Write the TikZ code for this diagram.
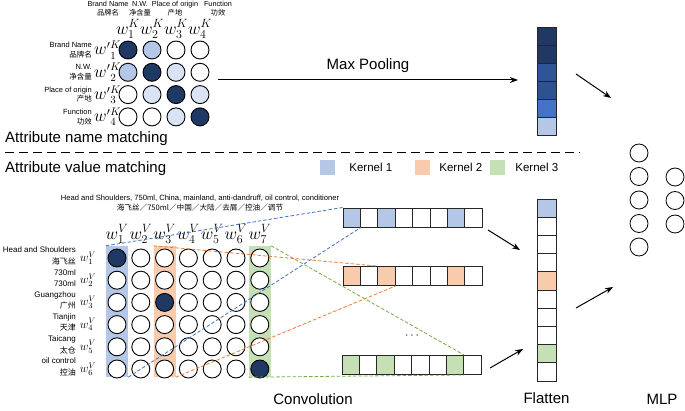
\documentclass[tikz,border=0pt]{standalone}
\usepackage{fontspec}
\setmainfont{Liberation Sans}
\newfontfamily\cjk{Noto Sans CJK SC}
\usepackage{tikz}
\usetikzlibrary{arrows.meta, positioning}

\definecolor{navy}{HTML}{1F3864}
\definecolor{paleblue}{HTML}{B4C7E7}
\definecolor{faintblue}{HTML}{DAE3F3}
\definecolor{poolc}{HTML}{2F5597}
\definecolor{poold}{HTML}{2C528F}
\definecolor{poole}{HTML}{4472C4}
\definecolor{k1}{HTML}{B4C7E7}
\definecolor{k2}{HTML}{F8CBAD}
\definecolor{k3}{HTML}{C5E0B4}
\definecolor{k1line}{HTML}{4472C4}
\definecolor{k2line}{HTML}{ED7D31}
\definecolor{k3line}{HTML}{70AD47}

\begin{document}
\begin{tikzpicture}[x=1pt, y=-1pt,
    neuron/.style={circle, draw=black, line width=0.9pt, fill=white, minimum size=18pt, inner sep=0pt},
    hcell/.style={rectangle, draw=black!85, line width=0.9pt, minimum width=17.4pt, minimum height=19pt, inner sep=0pt},
    vcell/.style={rectangle, draw=black!85, line width=0.9pt, minimum width=19pt, minimum height=18.2pt, inner sep=0pt},
    kernel/.style={rectangle, minimum width=22pt, minimum height=131pt, inner sep=0pt},
    swatch/.style={rectangle, minimum size=15pt, inner sep=0pt},
    hdr/.style={font=\fontsize{7.3}{9}\selectfont, align=center, inner sep=0pt},
    side/.style={font=\fontsize{7.5}{9.5}\selectfont, align=right, inner sep=0pt},
    vside/.style={font=\fontsize{8}{11.5}\selectfont, align=right, inner sep=0pt},
    wlab/.style={font=\fontsize{17}{17}\selectfont, inner sep=0pt},
    title/.style={font=\fontsize{15}{17}\selectfont, inner sep=0pt},
    legend/.style={font=\fontsize{11.5}{12}\selectfont, inner sep=0pt},
    arrow/.style={-{Stealth[length=8pt, width=6pt]}, line width=1pt},
    link/.style={dash pattern=on 3.5pt off 2pt, line width=0.8pt}
]
\useasboundingbox (0,0) rectangle (685,411);

% attribute name matching
\foreach \r/\fills in {1/{navy,paleblue,white,white}, 2/{paleblue,navy,faintblue,white},
                       3/{white,faintblue,navy,faintblue}, 4/{white,white,faintblue,navy}}
  \foreach \f [count=\c] in \fills
    \node[neuron, fill=\f] (n-\r-\c) at ({104+24*\c}, {27.7+22.3*\r}) {};

\foreach \c in {1,...,4}
  \node[wlab, above=2pt of n-1-\c] (wk-\c) {$w^{K}_{\c}$};

\foreach \r/\txt in {1/{Brand Name\\{\cjk 品牌名}}, 2/{N.W.\\{\cjk 净含量}},
                     3/{Place of origin\\{\cjk 产地}}, 4/{Function\\{\cjk 功效}}} {
  \node[wlab, font=\fontsize{16}{16}\selectfont, anchor=west] (wr-\r) at (94, {27.7+22.3*\r}) {$w'{}^{K}_{\r}$};
  \node[side, anchor=east] (sr-\r) at (92, {27.7+22.3*\r}) {\txt};
}

\node[hdr] (h-1) at (108,9) {Brand Name\\{\cjk 品牌名}};
\node[hdr] (h-2) at (140,9) {N.W.\\{\cjk 净含量}};
\node[hdr] (h-3) at (175,9) {Place of origin\\{\cjk 产地}};
\node[hdr] (h-4) at (218,9) {Function\\{\cjk 功效}};

% max pooling
\foreach \f [count=\i] in {navy,navy,poolc,poold,poole,paleblue}
  \node[vcell, minimum height=18pt, fill=\f] (p-\i) at (546.5, {18+18*\i}) {};

\coordinate (mp-a) at (218,80);
\coordinate (mp-b) at (518,80);
\draw[arrow] (mp-a) -- node[title, above=7pt] {Max Pooling} (mp-b);

\coordinate (pool-a) at (576,74);
\coordinate (pool-b) at (611,98);
\draw[arrow] (pool-a) -- (pool-b);

% separator
\node[title, anchor=west] (t-name) at (5,139) {Attribute name matching};
\draw[line width=1pt, dash pattern=on 9pt off 5pt] (5,153) -- (580,153);
\node[title, anchor=west] (t-value) at (5,169) {Attribute value matching};

\node[swatch, fill=k1] (s-1) at (327.5,167.5) {};
\node[legend, right=14pt of s-1] {Kernel 1};
\node[swatch, fill=k2] (s-2) at (422.5,167.5) {};
\node[legend, right=9pt of s-2] {Kernel 2};
\node[swatch, fill=k3] (s-3) at (497.5,167.5) {};
\node[legend, right=10pt of s-3] {Kernel 3};

% attribute value matching
\node[kernel, fill=k1] (kern-1) at (117,311.5) {};
\node[kernel, fill=k2] (kern-2) at (164.6,311.5) {};
\node[kernel, fill=k3] (kern-3) at (259.8,311.5) {};

\foreach \r in {1,...,6}
  \foreach \c in {1,...,7} {
    \pgfmathtruncatemacro\hit{(\r==1 && \c==1) || (\r==3 && \c==3) || (\r==6 && \c==7)}
    \ifnum\hit=1 \def\cf{navy}\else\def\cf{white}\fi
    \node[neuron, fill=\cf] (v-\r-\c) at ({117+23.8*(\c-1)}, {258+22.2*(\r-1)}) {};
  }

\foreach \c in {1,...,7}
  \node[wlab, above=5pt of v-1-\c] (wv-\c) {$w^{V}_{\c}$};

\foreach \r/\txt in {1/{Head and Shoulders\\{\cjk 海飞丝}}, 2/{730ml\\730ml}, 3/{Guangzhou\\{\cjk 广州}},
                     4/{Tianjin\\{\cjk 天津}}, 5/{Taicang\\{\cjk 太仓}}, 6/{oil control\\{\cjk 控油}}} {
  \node[font=\fontsize{12}{12}\selectfont, inner sep=0pt] (wc-\r) at (88, {258+22.2*(\r-1)}) {$w^{V}_{\r}$};
  \node[vside, anchor=east] (sc-\r) at (76, {256+22.2*(\r-1)}) {\txt};
}

\node[hdr, font=\fontsize{7.6}{10}\selectfont] (spec) at (200,203)
  {Head and Shoulders, 750ml, China, mainland, anti-dandruff, oil control, conditioner\\
   {\cjk 海飞丝／750ml／中国／大陆／去屑／控油／调节}};

% convolution outputs
\foreach \m/\y/\xs/\f in {1/217.5/343/k1, 2/276/343/k2, 3/365/342/k3}
  \foreach \i in {1,...,8} {
    \pgfmathtruncatemacro\hit{(\i==1) || (\i==3) || (\i==7)}
    \ifnum\hit=1 \def\cf{\f}\else\def\cf{white}\fi
    \node[hcell, fill=\cf] (m\m-\i) at ({\xs+17.4*\i-8.7}, \y) {};
  }
\node[font=\fontsize{12}{12}\selectfont] (dots) at (412,336) {$\cdots$};

\draw[link, k1line] (kern-1.north west) -- (m1-1.north west);
\draw[link, k1line] (kern-1.south east) -- (m1-1.south east);
\draw[link, k2line] (kern-2.north west) -- (m2-3.north west);
\draw[link, k2line] (kern-2.south east) -- (m2-3.south east);
\draw[link, k3line] (kern-3.north east) -- (m3-7.north east);
\draw[link, k3line] (kern-3.south west) -- (m3-7.south east);

% flatten
\foreach \f [count=\i] in {k1,white,white,white,k2,white,white,white,k3,white}
  \node[vcell, fill=\f] (fl-\i) at (546.5, {199+18.2*\i-9.1}) {};

\coordinate (cv-a) at (488,230);
\coordinate (cv-b) at (520,250);
\coordinate (cv-c) at (490,368);
\coordinate (cv-d) at (523,349);
\draw[arrow] (cv-a) -- (cv-b);
\draw[arrow] (cv-c) -- (cv-d);

\coordinate (fl-a) at (576,308);
\coordinate (fl-b) at (613,287);
\draw[arrow] (fl-a) -- (fl-b);

% mlp
\foreach \i in {1,...,5}
  \node[neuron, fill=none, line width=0.8pt] (h-\i) at (639, {129.5+23.5*\i}) {};
\foreach \i in {1,2,3}
  \node[neuron, fill=none, line width=0.8pt] (o-\i) at (675, {153.5+23.5*\i}) {};

\node[title] (lab-conv) at (313,399) {Convolution};
\node[title, below=11pt of fl-10] (lab-flat) {Flatten};
\node[title] (lab-mlp) at (662,399) {MLP};
\end{tikzpicture}
\end{document}
